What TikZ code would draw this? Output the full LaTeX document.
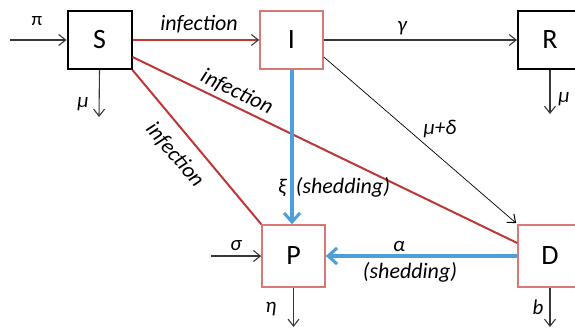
\documentclass[tikz,border=0pt]{standalone}
\usepackage{fontspec}
\setmainfont{Carlito}
\usetikzlibrary{arrows.meta,calc}
\definecolor{redline}{RGB}{190,55,55}
\definecolor{boxred}{RGB}{220,120,115}
\definecolor{blueline}{RGB}{75,160,220}
\definecolor{darkgray}{RGB}{55,55,55}
\tikzset{
  blackbox/.style={draw=black, line width=2pt, minimum width=64pt, minimum height=58pt, font=\fontsize{28}{30}\selectfont, inner sep=0pt},
  redbox/.style={draw=boxred, line width=1.6pt, minimum width=63pt, minimum height=60pt, font=\fontsize{28}{30}\selectfont, inner sep=0pt},
  thinarrow/.style={draw=darkgray, line width=1.1pt, -{Straight Barb[length=7pt,width=11pt,line width=1.1pt]}},
  finearrow/.style={draw=black, line width=0.7pt, -{Straight Barb[length=7pt,width=11pt,line width=1pt]}},
  redlink/.style={draw=redline, line width=2pt},
  bluearrow/.style={draw=blueline, line width=3.5pt, -{Straight Barb[length=9pt,width=16pt,line width=3pt]}},
  lbl/.style={font=\fontsize{22}{24}\selectfont\itshape, inner sep=1pt},
  greek/.style={font=\fontsize{21}{23}\selectfont\itshape, inner sep=0pt},
}
\begin{document}
\begin{tikzpicture}[x=1pt,y=-1pt]
\useasboundingbox (0,0) rectangle (575,329);
% boxes
\node[blackbox] (S) at (99.5,40) {S};
\node[redbox, minimum height=58pt] (I) at (291.5,40) {I};
\node[blackbox] (R) at (550,40) {R};
\node[redbox, minimum height=62pt] (P) at (293.5,256) {P};
\node[redbox, minimum height=62pt, minimum width=64pt] (D) at (550,256) {D};
% free ends
\coordinate (pin) at (10,40);
\coordinate (sigin) at (211,256);
\coordinate (smu) at (99,117);
\coordinate (rmu) at (550,114);
\coordinate (peta) at (293.5,327);
\coordinate (db) at (550,327);
% red infection links
\draw[redlink] ([yshift=-17pt]S.east) -- ([yshift=13pt]D.west);
\draw[redlink] (S.south east) -- (P.north west);
\draw[redlink, -{Straight Barb[length=7pt,width=11pt,line width=1.1pt,color=darkgray]}] (S.east) -- (I.west);
% thin arrows
\draw[thinarrow] (pin) -- (S.west);
\draw[thinarrow] (S.south) -- (smu);
\draw[thinarrow] (I.east) -- (R.west);
\draw[thinarrow] (R.south) -- (rmu);
\draw[finearrow] ([yshift=-17pt]I.east) -- ([xshift=-1pt,yshift=1pt]D.north west);
\draw[thinarrow] (sigin) -- (P.west);
\draw[thinarrow] (P.south) -- (peta);
\draw[thinarrow] (D.south) -- (db);
% blue shedding arrows
\draw[bluearrow] ([xshift=0.5pt]I.south) -- ([xshift=-1.5pt]P.north);
\draw[bluearrow] (D.west) -- (P.east);
% labels
\node[lbl] (l1) at (199,24) {infection};
\node[lbl, rotate=-25.7] (l2) at (237,92) {infection};
\node[lbl, rotate=-49.5] (l3) at (175,155) {infection};
\node[font=\fontsize{19}{21}\selectfont] (lpi) at (37,21) {π};
\node[greek] (lmuS) at (83,104) {μ};
\node[greek] (lgam) at (402,28) {γ};
\node[greek] (lmuR) at (564,99) {μ};
\node[greek] (lmd) at (440,129) {μ+δ};
\node[lbl] (lxi) at (334,187) {{\fontsize{21}{23}\selectfont ξ}\hspace{10pt}(shedding)};
\node[greek] (lsig) at (236,246) {σ};
\node[greek] (lal) at (399,246) {α};
\node[lbl] (lsh) at (410,272) {(shedding)};
\node[greek] (leta) at (271,309) {η};
\node[greek] (lb) at (538,307) {b};
\end{tikzpicture}
\end{document}
